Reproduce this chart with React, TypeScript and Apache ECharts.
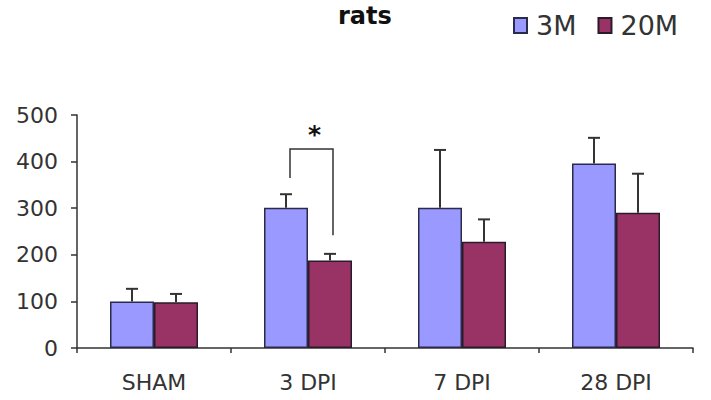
import React, { useEffect, useRef } from "react";
import * as echarts from "echarts";

const categories = ["SHAM", "3 DPI", "7 DPI", "28 DPI"];
const seriesNames = ["3M", "20M"];
const means3M = [100, 301, 301, 396];
const sd3M = [27, 29, 124, 55];
const means20M = [98, 188, 228, 290];
const sd20M = [18, 14, 48, 84];
const yTicks = [0, 100, 200, 300, 400, 500];
// significance bracket: category index, top of bracket, lower ends of left / right legs, star level
const sigCategory = [1];
const sigTop = [427];
const sigLeftEnd = [365];
const sigRightEnd = [242];
const sigStar = [458];

const BLUE = "#9999FF";
const RED = "#993366";
const INK = "#333333";
const FONT = "'DejaVu Sans', Verdana, sans-serif";

export default function App() {
  const ref = useRef<HTMLDivElement>(null);

  useEffect(() => {
    if (!ref.current) return;
    const chart = echarts.init(ref.current, undefined, { renderer: "svg" });
    const barW = 44;
    const half = barW / 2;

    const errSeries = (name: string, means: number[], sds: number[], off: number) => ({
      type: "custom",
      name: name + "-err",
      z: 5,
      data: means.map((m, i) => [i, m, sds[i]]),
      renderItem: (params: any, api: any) => {
        const base = api.coord([api.value(0), api.value(1)]);
        const top = api.coord([api.value(0), api.value(1) + api.value(2)]);
        const x = base[0] + off;
        const style = { stroke: INK, lineWidth: 2 };
        return {
          type: "group",
          children: [
            { type: "line", shape: { x1: x, y1: base[1], x2: x, y2: top[1] }, style },
            { type: "line", shape: { x1: x - 6, y1: top[1], x2: x + 6, y2: top[1] }, style },
          ],
        };
      },
    });

    chart.setOption({
      animation: false,
      title: {
        text: "rats",
        left: 338,
        top: 4,
        padding: 0,
        textStyle: { fontFamily: FONT, fontSize: 24, fontWeight: "bold", color: "#111" },
      },
      legend: {
        data: seriesNames,
        left: 508,
        top: 7,
        icon: "rect",
        itemWidth: 13,
        itemHeight: 15,
        itemGap: 21,
        textStyle: { fontFamily: FONT, fontSize: 27, color: INK, padding: [0, 0, 0, 4] },
      },
      grid: { left: 77, right: 18, top: 115, bottom: 52, containLabel: false },
      xAxis: {
        type: "category",
        data: categories,
        axisLine: { lineStyle: { color: INK, width: 1.5 } },
        axisTick: { show: true, length: 5, lineStyle: { color: INK, width: 1.5 } },
        axisLabel: { fontFamily: FONT, fontSize: 22, color: INK, margin: 23 },
      },
      yAxis: {
        type: "value",
        min: yTicks[0],
        max: yTicks[yTicks.length - 1],
        interval: yTicks[1] - yTicks[0],
        axisLine: { show: true, lineStyle: { color: INK, width: 1.5 } },
        axisTick: { show: true, length: 6, lineStyle: { color: INK, width: 1.5 } },
        axisLabel: { fontFamily: FONT, fontSize: 22, color: INK, margin: 19 },
        splitLine: { show: false },
      },
      series: [
        {
          type: "bar",
          name: seriesNames[0],
          data: means3M,
          barWidth: barW,
          barGap: "0%",
          itemStyle: { color: BLUE, borderColor: "#2a2a4a", borderWidth: 1.5 },
        },
        {
          type: "bar",
          name: seriesNames[1],
          data: means20M,
          barWidth: barW,
          barGap: "0%",
          itemStyle: { color: RED, borderColor: "#2a1a2a", borderWidth: 1.5 },
        },
        errSeries(seriesNames[0], means3M, sd3M, -half),
        errSeries(seriesNames[1], means20M, sd20M, half),
        {
          type: "custom",
          name: "sig",
          z: 6,
          data: sigCategory.map((c, i) => [c, sigTop[i], sigLeftEnd[i], sigRightEnd[i], sigStar[i]]),
          renderItem: (params: any, api: any) => {
            const c = api.value(0);
            const t = api.coord([c, api.value(1)]);
            const l = api.coord([c, api.value(2)]);
            const r = api.coord([c, api.value(3)]);
            const s = api.coord([c, api.value(4)]);
            const xl = t[0] - half + 4;
            const xr = t[0] + half + 3;
            const style = { stroke: INK, lineWidth: 1.5, fill: "none" };
            return {
              type: "group",
              children: [
                {
                  type: "polyline",
                  shape: { points: [[xl, l[1]], [xl, t[1]], [xr, t[1]], [xr, r[1]]] },
                  style,
                },
                {
                  type: "text",
                  style: {
                    text: "*",
                    x: (xl + xr) / 2 + 3,
                    y: s[1],
                    align: "center",
                    verticalAlign: "middle",
                    fontFamily: FONT,
                    fontSize: 25,
                    fontWeight: "bold",
                    fill: "#111",
                  },
                },
              ],
            };
          },
        },
      ],
    });

    return () => chart.dispose();
  }, []);

  return <div ref={ref} style={{ width: 711, height: 400, position: "absolute", left: 0, top: 0 }} />;
}
